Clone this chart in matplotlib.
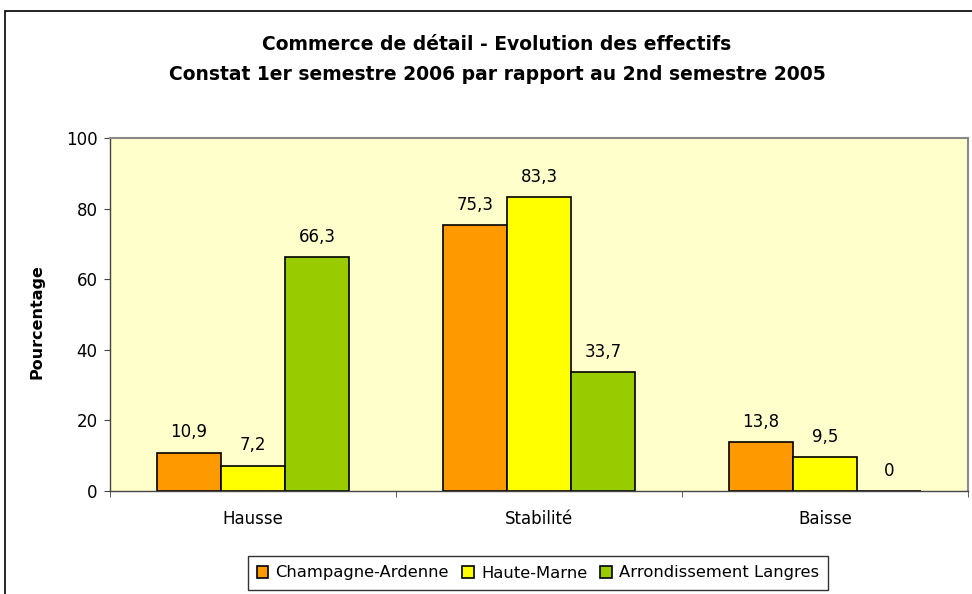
import matplotlib
matplotlib.use("Agg")
import matplotlib.pyplot as plt
import matplotlib.patches as mpatches
import numpy as np

plt.rcParams['font.family'] = ['DejaVu Sans']

categories = ["Hausse", "Stabilité", "Baisse"]
series_names = ["Champagne-Ardenne", "Haute-Marne", "Arrondissement Langres"]
champagne = [10.9, 75.3, 13.8]
haute_marne = [7.2, 83.3, 9.5]
langres = [66.3, 33.7, 0]
labels_fmt = lambda v: ("%g" % v).replace(".", ",")

colors = ["#FF9900", "#FFFF00", "#99CC00"]

fig = plt.figure(figsize=(9.72, 5.94), dpi=100)
fig.patch.set_facecolor("white")

# outer chart border
fig.patches.append(mpatches.Rectangle((5/972, -0.1), 1.2, 1 - 11/594 + 0.1,
                                      transform=fig.transFigure, fill=False,
                                      edgecolor="black", linewidth=1.2))

ax = fig.add_axes([110/972, 1 - 491/594, 858/972, (491 - 138)/594])
ax.set_facecolor("#FFFFCC")

x = np.arange(len(categories))
w = 64/286
data = [champagne, haute_marne, langres]
for i, (vals, name, c) in enumerate(zip(data, series_names, colors)):
    bars = ax.bar(x + (i - 1) * w, vals, w, color=c, edgecolor="black",
                  linewidth=1.2, label=name)
    for b, v in zip(bars, vals):
        ax.annotate(labels_fmt(v), (b.get_x() + b.get_width()/2, v),
                    xytext=(0, 8), textcoords="offset points",
                    ha="center", va="bottom", fontsize=12)

ax.set_xlim(-0.5, 2.5)
ax.set_ylim(0, 100)
ax.set_yticks([0, 20, 40, 60, 80, 100])
ax.set_xticks(x)
ax.set_xticklabels(categories, fontsize=12)
ax.set_xticks([-0.5, 0.5, 1.5, 2.5], minor=True)
ax.tick_params(axis="x", which="major", length=0, pad=14)
ax.tick_params(axis="x", which="minor", length=4, color="#444444")
ax.tick_params(axis="y", labelsize=12, length=4, color="#444444", pad=5)
for s in ["top", "right"]:
    ax.spines[s].set_color("#888888")
    ax.spines[s].set_linewidth(1.5)
for s in ["left", "bottom"]:
    ax.spines[s].set_color("#444444")
    ax.spines[s].set_linewidth(1.0)

ax.set_ylabel("Pourcentage", fontsize=11.5, fontweight="bold")
ax.yaxis.set_label_coords((44 - 110)/858, 0.48)

fig.text(497/972, 1 - 44/594, "Commerce de détail - Evolution des effectifs",
         ha="center", va="center", fontsize=13.5, fontweight="bold")
fig.text(497/972, 1 - 74/594, "Constat 1er semestre 2006 par rapport au 2nd semestre 2005",
         ha="center", va="center", fontsize=13.5, fontweight="bold")

leg = fig.legend(loc="center", bbox_to_anchor=(538/972, 1 - 573/594), ncol=3,
                 fontsize=11.8, frameon=True, fancybox=False, handlelength=0.7,
                 handleheight=0.7, handletextpad=0.45, columnspacing=0.8,
                 borderpad=0.55, borderaxespad=0)
leg.get_frame().set_edgecolor("black")
leg.get_frame().set_linewidth(1.0)

fig.savefig("out.png", dpi=100)
